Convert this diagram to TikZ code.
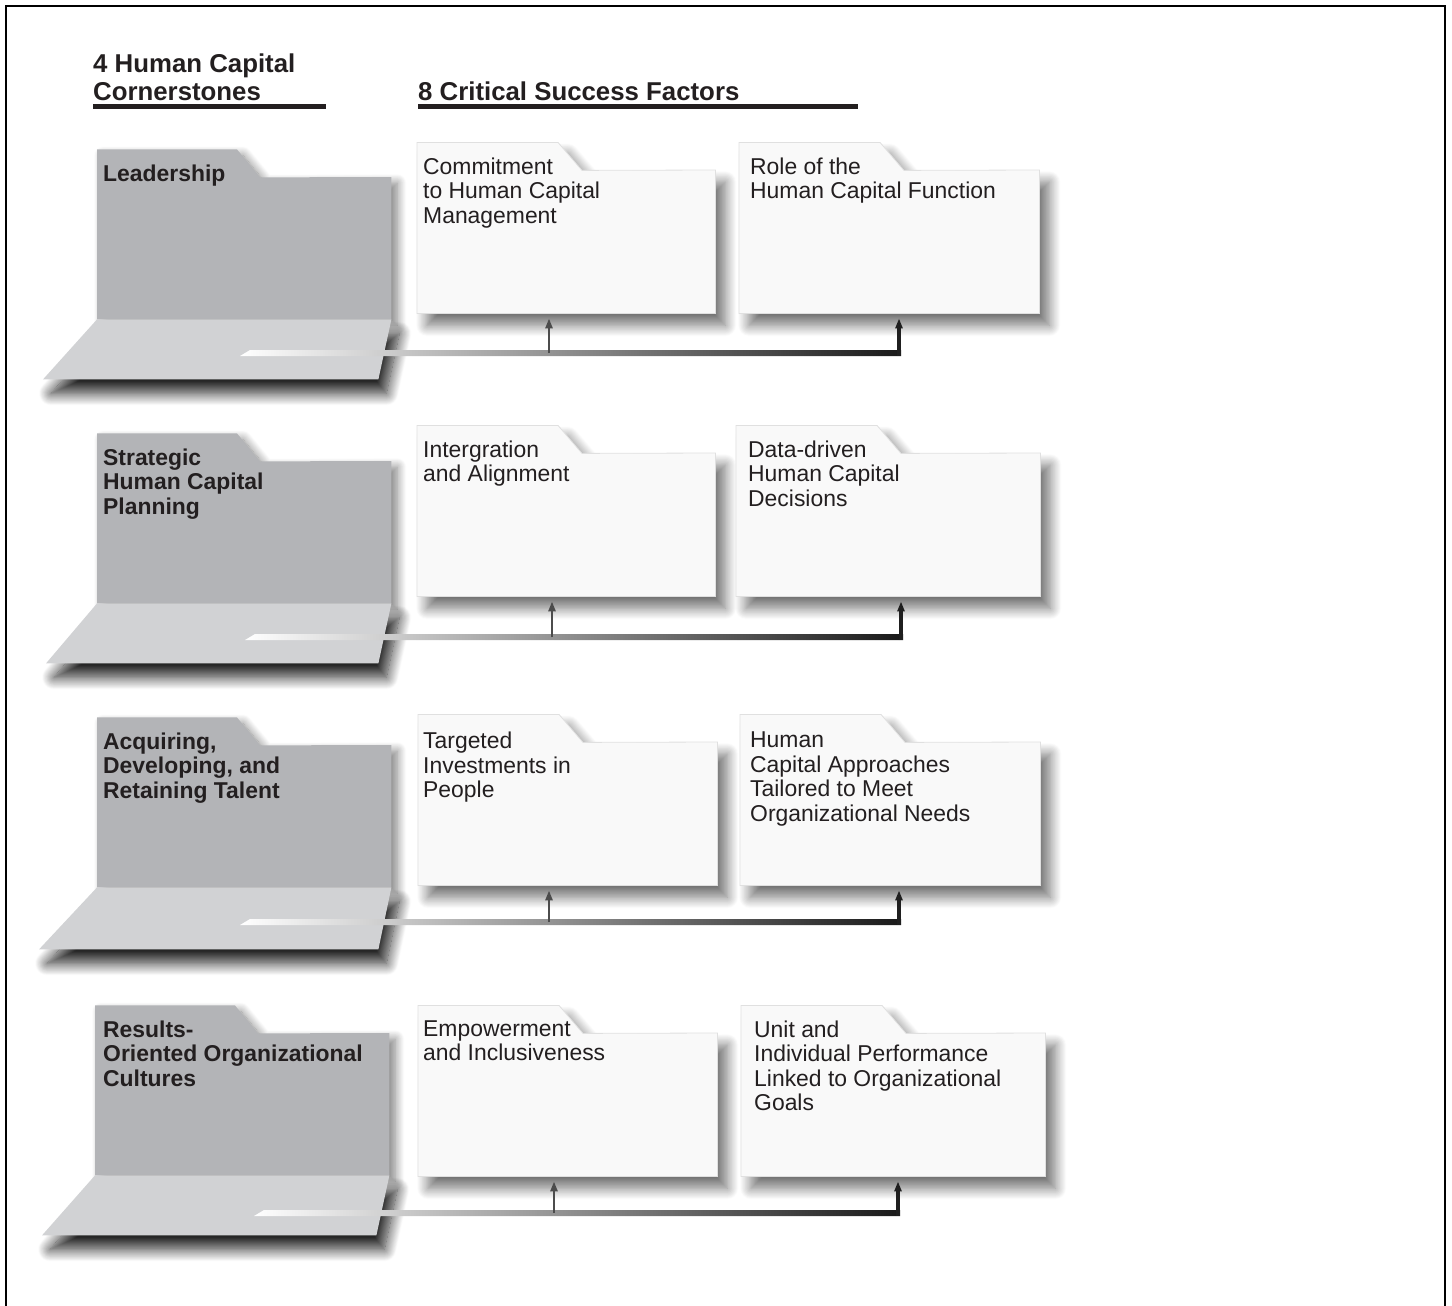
\documentclass[tikz,border=0pt]{standalone}
\usepackage{fontspec}
\setmainfont{Liberation Sans}
\usetikzlibrary{arrows.meta,shadows.blur}
\definecolor{backgray}{HTML}{B3B4B7}
\definecolor{flapgray}{HTML}{D1D2D4}
\definecolor{boxwhite}{HTML}{F9F9F9}
\definecolor{inkgray}{HTML}{231F20}

\begin{document}
\begin{tikzpicture}[x=1pt, y=-1pt,
    hnode/.style={anchor=north west, inner sep=0pt, align=left, text=inkgray, font=\bfseries\fontsize{25.8}{28}\selectfont},
    gnode/.style={anchor=north west, inner sep=0pt, minimum width=294pt, minimum height=142pt},
    wnode/.style={anchor=north west, inner sep=0pt, minimum height=143pt},
    gtext/.style={anchor=north west, inner sep=0pt, align=left, text=inkgray, font=\bfseries\fontsize{22.9}{24.4}\selectfont},
    wtext/.style={anchor=north west, inner sep=0pt, align=left, text=inkgray, font=\fontsize{22.9}{24.4}\selectfont},
    backfold/.style={fill=backgray, blur shadow={shadow xshift=6pt, shadow yshift=-6pt, shadow blur radius=9pt, shadow blur steps=14, shadow opacity=50}},
    flapfold/.style={fill=flapgray, blur shadow={shadow xshift=8pt, shadow yshift=-14pt, shadow blur radius=12pt, shadow blur steps=16, shadow opacity=85}},
    wfold/.style={fill=boxwhite, draw=black!12, line width=0.8pt, blur shadow={shadow xshift=10pt, shadow yshift=-12pt, shadow blur radius=11pt, shadow blur steps=16, shadow opacity=55}},
    bar/.style={left color=white, right color=black!90},
    uparr/.style={-{Triangle[length=10pt,width=7pt]}, shorten >=5pt, line width=2.5pt, draw=black!70},
    endarr/.style={uparr, line width=3.5pt, draw=black!88}]
    \useasboundingbox (0,0) rectangle (1452,1306);
    \draw[line width=2pt] (6,1320) -- (6,6) -- (1445,6) -- (1445,1320);

    % headings
    \node[hnode] (hcorner) at (93,53.5) {4 Human Capital\\Cornerstones};
    \node[hnode] (hfactor) at (418,81.5) {8 Critical Success Factors};
    \draw[line width=5pt, inkgray] (93,106) -- (326,106);
    \draw[line width=5pt, inkgray] (418,106) -- (858,106);

    % cornerstones
    \node[gnode] (lead) at (97,177) {};
    \node[gnode] (shcp) at (97,461) {};
    \node[gnode] (adrt) at (97,745) {};
    \node[gnode] (rooc) at (95,1033) {};

    \fill[backfold] (lead.south west) -- ++(0,-170) -- ++(140,0) -- ++(23,28) -- (lead.north east) -- (lead.south east) -- cycle;
    \fill[flapfold] (lead.south west) -- (lead.south east) -- ++(-13,60) -- ([shift={(-54,60)}]lead.south west) -- cycle;
    \fill[backfold] (shcp.south west) -- ++(0,-170) -- ++(140,0) -- ++(23,28) -- (shcp.north east) -- (shcp.south east) -- cycle;
    \fill[flapfold] (shcp.south west) -- (shcp.south east) -- ++(-13,60) -- ([shift={(-51,60)}]shcp.south west) -- cycle;
    \fill[backfold] (adrt.south west) -- ++(0,-170) -- ++(140,0) -- ++(23,28) -- (adrt.north east) -- (adrt.south east) -- cycle;
    \fill[flapfold] (adrt.south west) -- (adrt.south east) -- ++(-13,62) -- ([shift={(-58,62)}]adrt.south west) -- cycle;
    \fill[backfold] (rooc.south west) -- ++(0,-170) -- ++(140,0) -- ++(23,28) -- (rooc.north east) -- (rooc.south east) -- cycle;
    \fill[flapfold] (rooc.south west) -- (rooc.south east) -- ++(-13,60) -- ([shift={(-53,60)}]rooc.south west) -- cycle;

    \node[gtext] (lead-t) at ([xshift=6pt,yshift=12.5pt]lead.north west) {Leadership};
    \node[gtext] (shcp-t) at ([xshift=6pt,yshift=12.5pt]shcp.north west) {Strategic\\Human Capital\\Planning};
    \node[gtext] (adrt-t) at ([xshift=6pt,yshift=12.5pt]adrt.north west) {Acquiring,\\Developing, and\\Retaining Talent};
    \node[gtext] (rooc-t) at ([xshift=8pt,yshift=12.5pt]rooc.north west) {Results-\\Oriented Organizational\\Cultures};

    % success factors
    \node[wnode, minimum width=298pt] (cmt) at (417,170) {};
    \node[wnode, minimum width=300pt] (role) at (739,170) {};
    \node[wnode, minimum width=298pt] (intg) at (417,453) {};
    \node[wnode, minimum width=304pt] (data) at (736,453) {};
    \node[wnode, minimum width=299pt] (tinv) at (418,742) {};
    \node[wnode, minimum width=300pt] (hcap) at (740,742) {};
    \node[wnode, minimum width=299pt] (empw) at (418,1033) {};
    \node[wnode, minimum width=304pt] (unit) at (741,1033) {};

    \fill[wfold] (cmt.south west) -- ++(0,-171) -- ++(141,0) -- ++(24,28) -- (cmt.north east) -- (cmt.south east) -- cycle;
    \fill[wfold] (role.south west) -- ++(0,-171) -- ++(141,0) -- ++(24,28) -- (role.north east) -- (role.south east) -- cycle;
    \fill[wfold] (intg.south west) -- ++(0,-171) -- ++(141,0) -- ++(24,28) -- (intg.north east) -- (intg.south east) -- cycle;
    \fill[wfold] (data.south west) -- ++(0,-171) -- ++(141,0) -- ++(24,28) -- (data.north east) -- (data.south east) -- cycle;
    \fill[wfold] (tinv.south west) -- ++(0,-171) -- ++(141,0) -- ++(24,28) -- (tinv.north east) -- (tinv.south east) -- cycle;
    \fill[wfold] (hcap.south west) -- ++(0,-171) -- ++(141,0) -- ++(24,28) -- (hcap.north east) -- (hcap.south east) -- cycle;
    \fill[wfold] (empw.south west) -- ++(0,-171) -- ++(141,0) -- ++(24,28) -- (empw.north east) -- (empw.south east) -- cycle;
    \fill[wfold] (unit.south west) -- ++(0,-171) -- ++(141,0) -- ++(24,28) -- (unit.north east) -- (unit.south east) -- cycle;

    \node[wtext] (cmt-t) at ([xshift=6pt,yshift=12.5pt]cmt.north west) {Commitment\\to Human Capital\\Management};
    \node[wtext] (role-t) at ([xshift=11pt,yshift=12.5pt]role.north west) {Role of the\\Human Capital Function};
    \node[wtext] (intg-t) at ([xshift=6pt,yshift=12.5pt]intg.north west) {Intergration\\and Alignment};
    \node[wtext] (data-t) at ([xshift=12pt,yshift=12.5pt]data.north west) {Data-driven\\Human Capital\\Decisions};
    \node[wtext] (tinv-t) at ([xshift=5pt,yshift=10pt]tinv.north west) {Targeted\\Investments in\\People};
    \node[wtext] (hcap-t) at ([xshift=10pt,yshift=10pt]hcap.north west) {Human\\Capital Approaches\\Tailored to Meet\\Organizational Needs};
    \node[wtext] (empw-t) at ([xshift=5pt,yshift=12.5pt]empw.north west) {Empowerment\\and Inclusiveness};
    \node[wtext] (unit-t) at ([xshift=13pt,yshift=12.5pt]unit.north west) {Unit and\\Individual Performance\\Linked to Organizational\\Goals};

    % links
    \coordinate (lead-o) at (245,353);
    \coordinate (lead-a) at (549,353);
    \coordinate (lead-b) at (899,353);
    \coordinate (shcp-o) at (250,637);
    \coordinate (shcp-a) at (552,637);
    \coordinate (shcp-b) at (901,637);
    \coordinate (adrt-o) at (245,922);
    \coordinate (adrt-a) at (549,922);
    \coordinate (adrt-b) at (899,922);
    \coordinate (rooc-o) at (259,1213);
    \coordinate (rooc-a) at (554,1213);
    \coordinate (rooc-b) at (898,1213);

    \shade[bar] ([shift={(5,-3)}]lead-o) -- ([shift={(2,-3)}]lead-b) -- ([shift={(2,3)}]lead-b) -- ([shift={(-5,3)}]lead-o) -- cycle;
    \shade[bar] ([shift={(5,-3)}]shcp-o) -- ([shift={(2,-3)}]shcp-b) -- ([shift={(2,3)}]shcp-b) -- ([shift={(-5,3)}]shcp-o) -- cycle;
    \shade[bar] ([shift={(5,-3)}]adrt-o) -- ([shift={(2,-3)}]adrt-b) -- ([shift={(2,3)}]adrt-b) -- ([shift={(-5,3)}]adrt-o) -- cycle;
    \shade[bar] ([shift={(5,-3)}]rooc-o) -- ([shift={(2,-3)}]rooc-b) -- ([shift={(2,3)}]rooc-b) -- ([shift={(-5,3)}]rooc-o) -- cycle;

    \draw[uparr] (lead-a) -- (lead-a |- cmt.south);
    \draw[endarr] ([yshift=-3pt]lead-b) -- (lead-b |- role.south);
    \draw[uparr] (shcp-a) -- (shcp-a |- intg.south);
    \draw[endarr] ([yshift=-3pt]shcp-b) -- (shcp-b |- data.south);
    \draw[uparr] (adrt-a) -- (adrt-a |- tinv.south);
    \draw[endarr] ([yshift=-3pt]adrt-b) -- (adrt-b |- hcap.south);
    \draw[uparr] (rooc-a) -- (rooc-a |- empw.south);
    \draw[endarr] ([yshift=-3pt]rooc-b) -- (rooc-b |- unit.south);
\end{tikzpicture}
\end{document}
